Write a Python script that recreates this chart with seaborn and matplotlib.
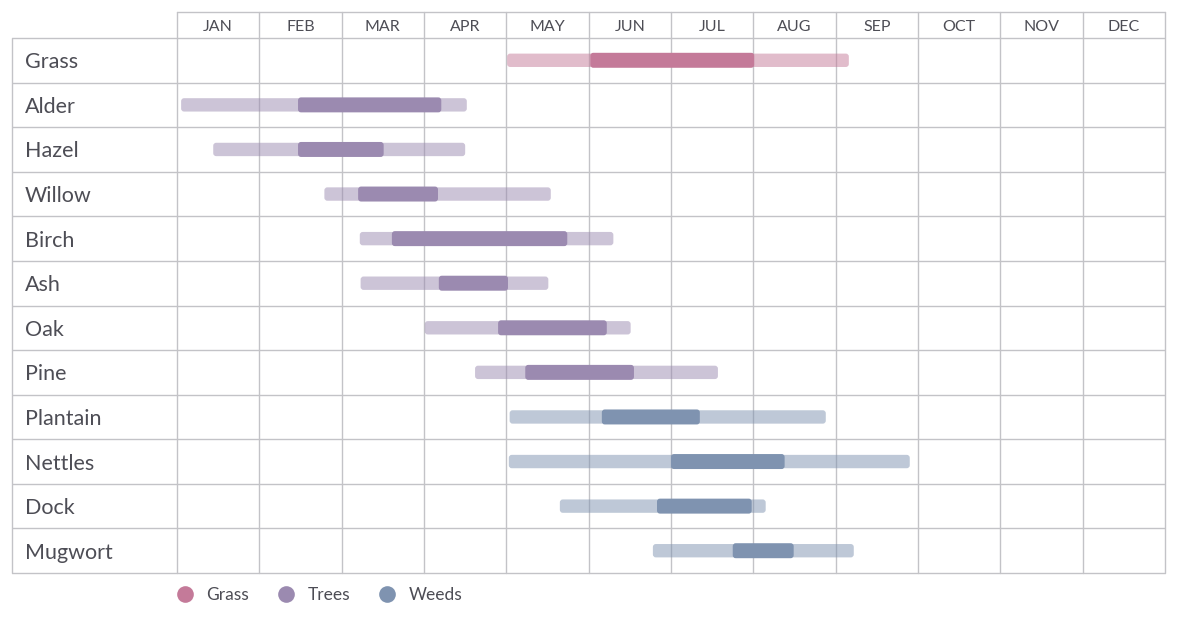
import matplotlib
matplotlib.use("Agg")
import matplotlib.pyplot as plt
from matplotlib.patches import FancyBboxPatch
from matplotlib.lines import Line2D
import seaborn as sns
import pandas as pd

# ---------------- data ----------------
months = ["JAN", "FEB", "MAR", "APR", "MAY", "JUN", "JUL", "AUG", "SEP", "OCT", "NOV", "DEC"]
plants = ["Grass", "Alder", "Hazel", "Willow", "Birch", "Ash", "Oak", "Pine",
          "Plantain", "Nettles", "Dock", "Mugwort"]
groups = ["Grass", "Trees", "Trees", "Trees", "Trees", "Trees", "Trees", "Trees",
          "Weeds", "Weeds", "Weeds", "Weeds"]
# season (light bar) start/end in months from 1 Jan
season_start = [4.01, 0.05, 0.44, 1.79, 2.22, 2.23, 3.01, 3.62, 4.04, 4.03, 4.65, 5.78]
season_end   = [8.16, 3.52, 3.50, 4.54, 5.30, 4.51, 5.51, 6.57, 7.88, 8.90, 7.15, 8.22]
# peak (dark bar) start/end
peak_start = [5.02, 1.47, 1.47, 2.20, 2.61, 3.18, 3.90, 4.23, 5.16, 6.00, 5.83, 6.75]
peak_end   = [7.01, 3.21, 2.51, 3.17, 4.74, 4.02, 5.22, 5.55, 6.35, 7.38, 6.98, 7.49]
legend_labels = ["Grass", "Trees", "Weeds"]
group_colors = {"Grass": "#C47A99", "Trees": "#9B8AB0", "Weeds": "#7F93B0"}

df = pd.DataFrame({
    "plant": plants, "group": groups,
    "s0": season_start, "s1": season_end,
    "p0": peak_start, "p1": peak_end,
})
df["sw"] = df["s1"] - df["s0"]
df["pw"] = df["p1"] - df["p0"]

# ---------------- figure ----------------
sns.set_theme(style="white")
plt.rcParams["font.family"] = ["Lato", "DejaVu Sans"]
W, H = 1177, 619
fig = plt.figure(figsize=(W / 100, H / 100), dpi=100)
L, R, T, B = 12, 1165, 38, 573
ax = fig.add_axes([L / W, (H - B) / H, (R - L) / W, (B - T) / H])

month_px = (R - 177) / 12.0
x_left = -(177 - L) / month_px
row_px = (B - T) / len(plants)
header_top = -0.5 - (T - 12) / row_px

grid_c = "#c3c3c7"
text_c = "#4d4d55"

# bars through seaborn
for g in legend_labels:
    sub = df[df["group"] == g]
    sns.barplot(data=sub, x="sw", y="plant", order=plants, orient="h",
                left=sub["s0"].values, color=group_colors[g], alpha=0.5,
                width=0.30, errorbar=None, saturation=1, ax=ax, zorder=2,
                linewidth=0)
for g in legend_labels:
    sub = df[df["group"] == g]
    sns.barplot(data=sub, x="pw", y="plant", order=plants, orient="h",
                left=sub["p0"].values, color=group_colors[g], alpha=1.0,
                width=0.336, errorbar=None, saturation=1, ax=ax, zorder=3,
                linewidth=0)

ax.set_xlim(x_left, 12)
ax.set_ylim(len(plants) - 0.5, -0.5)

# round the bar corners
aspect = month_px / row_px
r = 3.0 / month_px
for p in list(ax.patches):
    x, y = p.get_x(), p.get_y()
    w, h = p.get_width(), p.get_height()
    fc = p.get_facecolor()
    z = p.get_zorder()
    p.remove()
    fb = FancyBboxPatch((x, y), w, h,
                        boxstyle=f"round,pad=0,rounding_size={r}",
                        mutation_aspect=aspect, facecolor=fc,
                        edgecolor="none", zorder=z)
    ax.add_patch(fb)

# grid / table lines
for k in range(len(plants) + 1):
    ax.plot([x_left, 12], [k - 0.5, k - 0.5], color=grid_c, lw=1.0,
            zorder=1, clip_on=False, solid_capstyle="butt")
ax.plot([0, 12], [header_top, header_top], color=grid_c, lw=1.0,
        zorder=1, clip_on=False)
for m in range(13):
    ax.plot([m, m], [header_top, len(plants) - 0.5], color=grid_c, lw=1.0,
            zorder=1, clip_on=False)
ax.plot([x_left, x_left], [-0.5, len(plants) - 0.5], color=grid_c, lw=1.0,
        zorder=1, clip_on=False)

# month header labels
for m, name in enumerate(months):
    ax.text(m + 0.5, (header_top - 0.5) / 2 + 2.0 / row_px, name,
            ha="center", va="center", fontsize=11.5, color=text_c)

# row labels
for i, name in enumerate(plants):
    ax.text(x_left + 13 / month_px, i + 2.0 / row_px, name, ha="left",
            va="center", fontsize=15.5, color=text_c)

ax.set_xticks([])
ax.set_yticks([])
ax.set_xlabel("")
ax.set_ylabel("")
for s in ax.spines.values():
    s.set_visible(False)

# legend
handles = [Line2D([0], [0], marker="o", linestyle="none", markersize=12,
                  markerfacecolor=group_colors[g], markeredgecolor="none")
           for g in legend_labels]
leg = ax.legend(handles, legend_labels, loc="center left",
                bbox_to_anchor=(176 / W, (H - 595) / H),
                bbox_transform=fig.transFigure, frameon=False, ncol=3,
                handlelength=1.0, handletextpad=0.75, columnspacing=1.62,
                borderaxespad=0, borderpad=0, fontsize=12.5)
for t in leg.get_texts():
    t.set_color(text_c)

fig.savefig("out.png", dpi=100)
